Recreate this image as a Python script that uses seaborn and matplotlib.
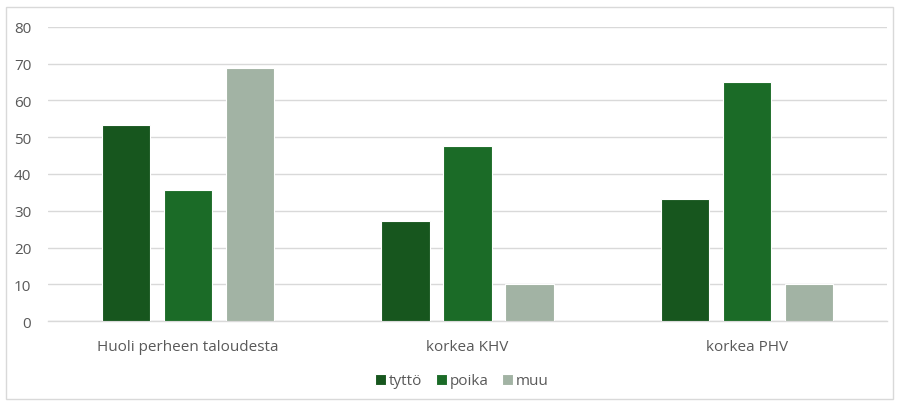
import matplotlib
matplotlib.use("Agg")
import matplotlib.pyplot as plt
import seaborn as sns
import pandas as pd
from matplotlib.patches import Rectangle

categories = ["Huoli perheen taloudesta", "korkea KHV", "korkea PHV"]
series = ["tyttö", "poika", "muu"]
tytto = [53.3, 27.2, 33.1]
poika = [35.7, 47.6, 65.0]
muu = [68.9, 10.2, 10.2]
yticks = [0, 10, 20, 30, 40, 50, 60, 70, 80]
colors = ["#17561E", "#1B6B27", "#A2B3A4"]

rows = []
for name, vals in zip(series, [tytto, poika, muu]):
    for c, v in zip(categories, vals):
        rows.append({"cat": c, "sarja": name, "arvo": v})
df = pd.DataFrame(rows)

sns.set_theme(style="white")
plt.rcParams["font.family"] = ["Open Sans", "DejaVu Sans"]

fig = plt.figure(figsize=(8.99, 4.06), dpi=100)
ax = fig.add_axes([48/899, 1-322/406, (887-48)/899, (322-28)/406])

sns.barplot(data=df, x="cat", y="arvo", hue="sarja", order=categories,
            hue_order=series, palette=colors, width=0.665, gap=0.225,
            edgecolor="white", linewidth=0.8, saturation=1, ax=ax, zorder=3)

ax.set_ylim(0, 80)
ax.set_xlim(-0.5, 2.5)
ax.set_yticks(yticks)
ax.set_yticklabels([str(t) for t in yticks])
ax.grid(axis="y", color="#D9D9D9", linewidth=1, zorder=0)
ax.set_axisbelow(True)
for s in ["top", "right", "left"]:
    ax.spines[s].set_visible(False)
ax.spines["bottom"].set_color("#D9D9D9")
ax.spines["bottom"].set_linewidth(1)
ax.tick_params(axis="both", length=0, labelsize=11, colors="#595959")
ax.tick_params(axis="y", pad=12)
ax.tick_params(axis="x", pad=13)
ax.set_xlabel("")
ax.set_ylabel("")

leg = ax.legend(loc="center", bbox_to_anchor=(462/899, 1-382/406),
                bbox_transform=fig.transFigure, ncol=3, frameon=False,
                fontsize=11, handlelength=0.7, handleheight=0.7,
                handletextpad=0.2, columnspacing=0.9)
for t in leg.get_texts():
    t.set_color("#595959")

fig.patches.append(Rectangle((6/899, 1-400/406), (893-6)/899, (400-8)/406,
                             transform=fig.transFigure, fill=False,
                             edgecolor="#D9D9D9", linewidth=1))

fig.savefig("out.png", dpi=100)
